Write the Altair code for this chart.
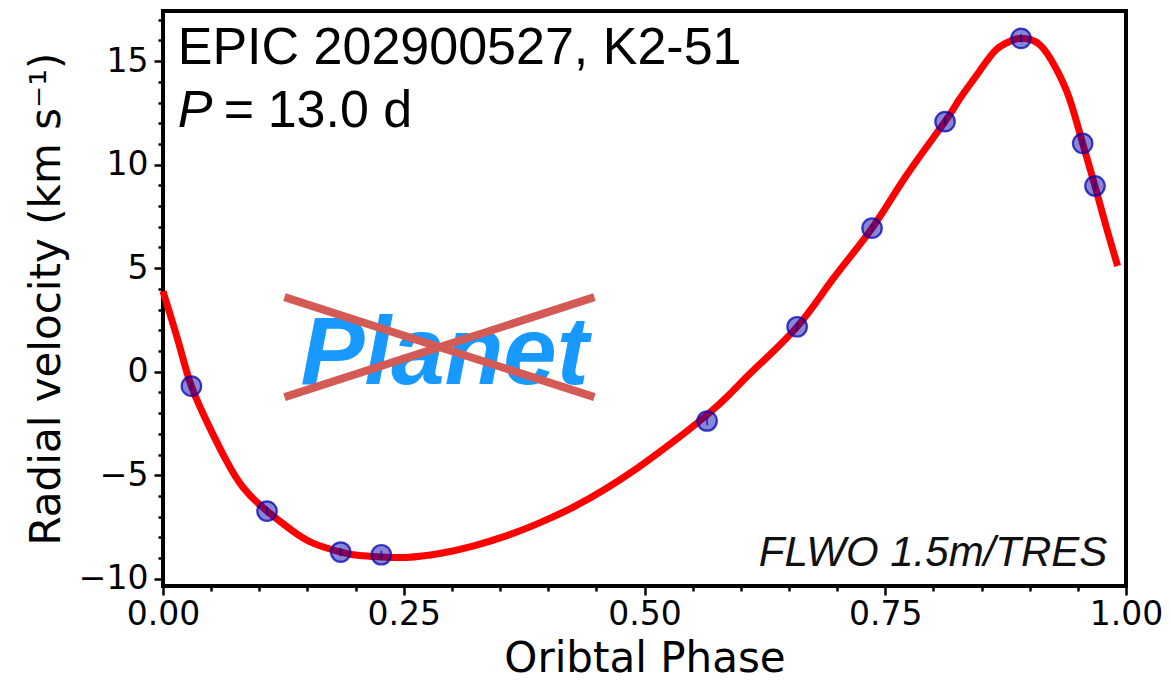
import altair as alt
import pandas as pd

# RV measurements (phase, km/s)
obs_phase = [0.0295, 0.1080, 0.1845, 0.2267, 0.5650, 0.6585, 0.7363, 0.8121, 0.8910, 0.9550, 0.9678]
obs_rv = [-0.70, -6.73, -8.71, -8.84, -2.38, 2.17, 6.93, 12.08, 16.10, 11.03, 8.97]
obs_err = [0.2, 0.2, 0.2, 0.2, 0.2, 0.2, 0.2, 0.2, 0.2, 0.2, 0.2]

# Orbital fit curve
fit_phase = [0.0, 0.0035, 0.0173, 0.0295, 0.0485, 0.0658, 0.0830, 0.1080, 0.1349, 0.1557,
             0.1845, 0.2042, 0.2267, 0.2526, 0.2872, 0.3218, 0.3564, 0.3910, 0.4256, 0.4602,
             0.4948, 0.5294, 0.5640, 0.5882, 0.6150, 0.6585, 0.6955, 0.7363, 0.7716, 0.8121,
             0.8270, 0.8477, 0.8651, 0.8806, 0.8910, 0.9100, 0.9273, 0.9412, 0.9550, 0.9678,
             0.9792, 0.9913]
fit_rv = [3.89, 3.35, 1.22, -0.70, -2.70, -4.30, -5.58, -6.73, -7.70, -8.28,
          -8.71, -8.88, -8.95, -8.97, -8.78, -8.42, -7.93, -7.30, -6.55, -5.64,
          -4.58, -3.40, -2.12, -1.10, 0.15, 2.17, 4.47, 6.93, 9.45, 12.08,
          13.16, 14.50, 15.55, 15.98, 16.10, 15.81, 14.65, 13.20, 11.03, 8.97,
          7.04, 5.11]

# "Planet" strike-through cross (data coordinates)
cross_x = [0.1262, 0.1262]
cross_x2 = [0.4480, 0.4480]
cross_y = [3.60, -1.23]
cross_y2 = [-1.23, 3.60]

x_ticks = [round(i * 0.05, 2) for i in range(21)]
y_ticks = list(range(-10, 18))

X_DOMAIN = [0, 1]
Y_DOMAIN = [-10.35, 17.42]

obs = pd.DataFrame({"phase": obs_phase, "rv": obs_rv, "err": obs_err})
obs["lo"] = obs["rv"] - obs["err"]
obs["hi"] = obs["rv"] + obs["err"]
fit = pd.DataFrame({"phase": fit_phase, "rv": fit_rv})
cross = pd.DataFrame({"x": cross_x, "x2": cross_x2, "y": cross_y, "y2": cross_y2})

labels = pd.DataFrame({
    "x": [0.0153, 0.0153, 0.063, 0.1087, 0.9806, 0.2924],
    "y": [14.84, 11.80, 11.80, 11.80, -9.37, -0.59],
    "t": ["EPIC 202900527, K2-51", "P", "=", "13.0 d", "FLWO 1.5m/TRES", "Planet"],
})

xscale = alt.Scale(domain=X_DOMAIN, nice=False, zero=False)
yscale = alt.Scale(domain=Y_DOMAIN, nice=False, zero=False)

XMAJ = "abs(datum.value*4 - round(datum.value*4)) < 1e-6"
YMAJ = "datum.value % 5 === 0"

xaxis = alt.Axis(
    title="Oribtal Phase", values=x_ticks, tickCount=200, grid=False, domain=False,
    labelExpr=XMAJ + " ? format(datum.value, '.2f') : ''",
    tickSize={"condition": {"test": XMAJ, "value": 9}, "value": 5},
    labelFontSize={"condition": {"test": XMAJ, "value": 33}, "value": 0.01},
    tickWidth=2.5, tickColor="black", labelFlush=False, labelOverlap=False,
    labelFont="DejaVu Sans", labelColor="black", labelPadding=3,
    titleFont="DejaVu Sans", titleFontSize=42, titleFontWeight="normal", titleColor="black",
    titlePadding=7,
)
yaxis = alt.Axis(
    title="Radial velocity (km s⁻¹)", values=y_ticks, tickCount=200, grid=False, domain=False,
    labelExpr=YMAJ + " ? format(datum.value, 'd') : ''",
    tickSize={"condition": {"test": YMAJ, "value": 9}, "value": 5},
    labelFontSize={"condition": {"test": YMAJ, "value": 33}, "value": 0.01},
    tickWidth=2.5, tickColor="black", labelFlush=False, labelOverlap=False,
    labelFont="DejaVu Sans", labelColor="black", labelPadding=6,
    titleFont="DejaVu Sans", titleFontSize=42, titleFontWeight="normal", titleColor="black",
    titlePadding=10,
)

line = alt.Chart(fit).mark_line(color="red", strokeWidth=7, interpolate="natural").encode(
    x=alt.X("phase:Q", scale=xscale, axis=xaxis),
    y=alt.Y("rv:Q", scale=yscale, axis=yaxis),
)

errs = alt.Chart(obs).mark_rule(color="#00008b", strokeWidth=2, opacity=0.6).encode(
    x="phase:Q", y="lo:Q", y2="hi:Q"
)

pts = alt.Chart(obs).mark_point(
    shape="circle", filled=True, size=380, fill="#0000b0", fillOpacity=0.47,
    stroke="#0000b0", strokeOpacity=0.75, strokeWidth=2.2,
).encode(x="phase:Q", y="rv:Q")

def txt(i, **kw):
    return alt.Chart(labels.iloc[[i]]).mark_text(baseline="alphabetic", **kw).encode(
        x="x:Q", y="y:Q", text="t:N"
    )

t_epic = txt(0, align="left", font="Liberation Sans", fontSize=52, color="black")
t_p = txt(1, align="left", font="Liberation Sans", fontSize=52, fontStyle="italic", color="black")
t_eq = txt(2, align="left", font="Liberation Sans", fontSize=52, color="black")
t_per = txt(3, align="left", font="Liberation Sans", fontSize=52, color="black")
t_inst = txt(4, align="right", font="Liberation Sans", fontSize=42, fontStyle="italic", color="#111111")
t_planet = txt(5, align="center", font="Liberation Sans", fontSize=96, fontStyle="italic",
               fontWeight="bold", color="#1799ff")

cross_lines = alt.Chart(cross).mark_rule(color="#d45a55", strokeWidth=8).encode(
    x="x:Q", x2="x2:Q", y="y:Q", y2="y2:Q"
)

chart = alt.layer(
    line, t_planet, cross_lines, errs, pts, t_epic, t_p, t_eq, t_per, t_inst
).properties(
    width=963, height=575,
    autosize=alt.AutoSizeParams(type="none"),
    padding={"left": 163, "top": 11, "right": 44, "bottom": 99},
    background="white",
).configure_view(stroke="black", strokeWidth=4)

chart.save("out.html", embed_options={"renderer": "svg", "actions": False})
